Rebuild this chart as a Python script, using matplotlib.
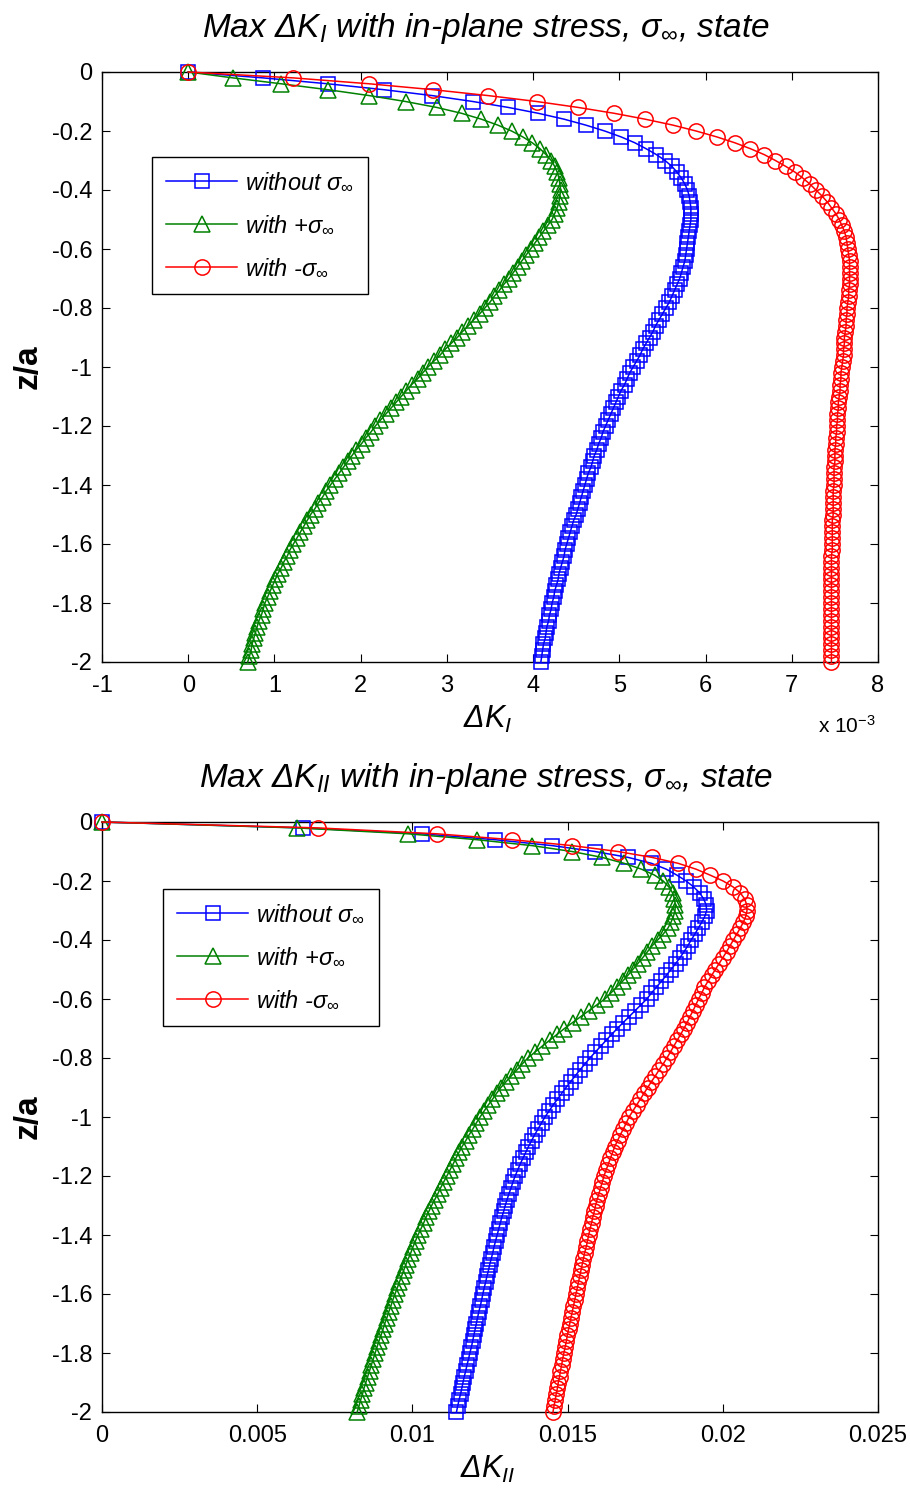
import numpy as np
import matplotlib
matplotlib.use("Agg")
import matplotlib.pyplot as plt

plt.rcParams["font.family"] = ["Liberation Sans", "DejaVu Sans"]
plt.rcParams["mathtext.fontset"] = "custom"
plt.rcParams["mathtext.it"] = "Liberation Sans:italic"
plt.rcParams["mathtext.rm"] = "Liberation Sans"
plt.rcParams["mathtext.bf"] = "Liberation Sans:bold"
plt.rcParams["axes.unicode_minus"] = False

# depth below the surface, normalised by crack size a
z_over_a = [
    0.00, -0.02, -0.04, -0.06, -0.08, -0.10, -0.12, -0.14, -0.16, -0.18,
    -0.20, -0.22, -0.24, -0.26, -0.28, -0.30, -0.32, -0.34, -0.36, -0.38,
    -0.40, -0.42, -0.44, -0.46, -0.48, -0.50, -0.52, -0.54, -0.56, -0.58,
    -0.60, -0.62, -0.64, -0.66, -0.68, -0.70, -0.72, -0.74, -0.76, -0.78,
    -0.80, -0.82, -0.84, -0.86, -0.88, -0.90, -0.92, -0.94, -0.96, -0.98,
    -1.00, -1.02, -1.04, -1.06, -1.08, -1.10, -1.12, -1.14, -1.16, -1.18,
    -1.20, -1.22, -1.24, -1.26, -1.28, -1.30, -1.32, -1.34, -1.36, -1.38,
    -1.40, -1.42, -1.44, -1.46, -1.48, -1.50, -1.52, -1.54, -1.56, -1.58,
    -1.60, -1.62, -1.64, -1.66, -1.68, -1.70, -1.72, -1.74, -1.76, -1.78,
    -1.80, -1.82, -1.84, -1.86, -1.88, -1.90, -1.92, -1.94, -1.96, -1.98,
    -2.00,
]

# Max Delta K_I (units of 1e-3)
dKI_without = [
    0.00, 0.87, 1.62, 2.27, 2.83, 3.30, 3.71, 4.06, 4.36, 4.61,
    4.83, 5.02, 5.18, 5.31, 5.43, 5.53, 5.61, 5.67, 5.72, 5.76,
    5.79, 5.81, 5.82, 5.83, 5.83, 5.83, 5.82, 5.81, 5.80, 5.79,
    5.78, 5.77, 5.76, 5.74, 5.72, 5.70, 5.67, 5.64, 5.61, 5.58,
    5.54, 5.50, 5.46, 5.42, 5.39, 5.35, 5.31, 5.27, 5.24, 5.20,
    5.16, 5.12, 5.09, 5.06, 5.02, 4.99, 4.96, 4.93, 4.90, 4.87,
    4.84, 4.81, 4.79, 4.76, 4.74, 4.71, 4.69, 4.67, 4.64, 4.62,
    4.60, 4.58, 4.56, 4.54, 4.52, 4.50, 4.47, 4.45, 4.43, 4.41,
    4.39, 4.37, 4.36, 4.34, 4.32, 4.30, 4.29, 4.27, 4.25, 4.24,
    4.22, 4.21, 4.19, 4.18, 4.16, 4.15, 4.14, 4.12, 4.11, 4.10,
    4.09,
]
dKI_plus = [
    0.00, 0.52, 1.08, 1.62, 2.10, 2.52, 2.88, 3.17, 3.40, 3.59,
    3.75, 3.88, 3.99, 4.08, 4.15, 4.21, 4.25, 4.28, 4.30, 4.31,
    4.32, 4.31, 4.30, 4.28, 4.25, 4.22, 4.17, 4.12, 4.07, 4.02,
    3.97, 3.92, 3.87, 3.82, 3.77, 3.72, 3.66, 3.61, 3.55, 3.50,
    3.44, 3.38, 3.31, 3.25, 3.18, 3.12, 3.05, 2.98, 2.92, 2.85,
    2.78, 2.72, 2.66, 2.59, 2.53, 2.47, 2.41, 2.35, 2.29, 2.23,
    2.17, 2.12, 2.06, 2.01, 1.95, 1.90, 1.85, 1.80, 1.75, 1.70,
    1.65, 1.60, 1.56, 1.51, 1.47, 1.42, 1.38, 1.34, 1.30, 1.26,
    1.22, 1.18, 1.15, 1.11, 1.08, 1.04, 1.01, 0.98, 0.95, 0.92,
    0.89, 0.87, 0.85, 0.82, 0.80, 0.78, 0.76, 0.74, 0.73, 0.71,
    0.69,
]
dKI_minus = [
    0.00, 1.22, 2.10, 2.84, 3.48, 4.04, 4.52, 4.94, 5.30, 5.62,
    5.89, 6.13, 6.34, 6.52, 6.68, 6.81, 6.93, 7.04, 7.13, 7.21,
    7.28, 7.35, 7.41, 7.46, 7.51, 7.55, 7.58, 7.61, 7.63, 7.64,
    7.65, 7.66, 7.67, 7.67, 7.67, 7.67, 7.67, 7.66, 7.66, 7.65,
    7.64, 7.64, 7.63, 7.63, 7.62, 7.61, 7.61, 7.60, 7.60, 7.59,
    7.58, 7.57, 7.57, 7.56, 7.56, 7.55, 7.54, 7.54, 7.53, 7.53,
    7.52, 7.52, 7.51, 7.51, 7.50, 7.50, 7.50, 7.49, 7.49, 7.49,
    7.49, 7.48, 7.48, 7.48, 7.48, 7.48, 7.47, 7.47, 7.47, 7.47,
    7.47, 7.47, 7.46, 7.46, 7.46, 7.46, 7.46, 7.46, 7.46, 7.46,
    7.46, 7.46, 7.46, 7.46, 7.46, 7.46, 7.46, 7.46, 7.46, 7.46,
    7.46,
]

# Max Delta K_II (units of 1e-3)
dKII_without = [
    0.00, 6.48, 10.31, 12.66, 14.50, 15.88, 16.95, 17.70, 18.18, 18.52,
    18.82, 19.06, 19.25, 19.38, 19.46, 19.48, 19.42, 19.32, 19.21, 19.10,
    18.98, 18.87, 18.75, 18.62, 18.48, 18.33, 18.18, 18.02, 17.86, 17.70,
    17.55, 17.36, 17.17, 16.98, 16.79, 16.60, 16.42, 16.24, 16.07, 15.89,
    15.72, 15.56, 15.40, 15.25, 15.10, 14.95, 14.81, 14.67, 14.53, 14.40,
    14.27, 14.16, 14.05, 13.94, 13.84, 13.74, 13.65, 13.56, 13.47, 13.39,
    13.31, 13.24, 13.18, 13.11, 13.05, 12.99, 12.94, 12.88, 12.83, 12.78,
    12.73, 12.68, 12.63, 12.59, 12.54, 12.49, 12.45, 12.40, 12.36, 12.31,
    12.27, 12.23, 12.19, 12.14, 12.10, 12.06, 12.02, 11.98, 11.94, 11.90,
    11.85, 11.81, 11.76, 11.72, 11.67, 11.63, 11.59, 11.55, 11.50, 11.46,
    11.42,
]
dKII_plus = [
    0.00, 6.28, 9.86, 12.08, 13.85, 15.14, 16.11, 16.82, 17.38, 17.80,
    18.08, 18.26, 18.38, 18.44, 18.47, 18.46, 18.41, 18.33, 18.23, 18.08,
    17.90, 17.72, 17.57, 17.42, 17.26, 17.10, 16.94, 16.77, 16.58, 16.39,
    16.20, 15.94, 15.68, 15.42, 15.16, 14.90, 14.66, 14.42, 14.18, 13.95,
    13.72, 13.54, 13.37, 13.19, 13.02, 12.85, 12.71, 12.58, 12.44, 12.31,
    12.18, 12.06, 11.95, 11.83, 11.72, 11.60, 11.50, 11.40, 11.31, 11.21,
    11.11, 11.01, 10.91, 10.82, 10.72, 10.62, 10.53, 10.44, 10.36, 10.27,
    10.18, 10.10, 10.02, 9.95, 9.87, 9.79, 9.72, 9.65, 9.58, 9.51,
    9.44, 9.37, 9.31, 9.24, 9.18, 9.11, 9.05, 8.99, 8.92, 8.86,
    8.80, 8.74, 8.68, 8.62, 8.56, 8.50, 8.44, 8.39, 8.33, 8.28,
    8.22,
]
dKII_minus = [
    0.00, 6.96, 10.79, 13.21, 15.14, 16.62, 17.72, 18.56, 19.14, 19.59,
    20.01, 20.33, 20.56, 20.70, 20.77, 20.78, 20.74, 20.66, 20.56, 20.45,
    20.34, 20.23, 20.12, 20.00, 19.88, 19.76, 19.64, 19.52, 19.41, 19.32,
    19.22, 19.13, 19.04, 18.94, 18.85, 18.75, 18.64, 18.53, 18.42, 18.31,
    18.20, 18.08, 17.95, 17.83, 17.70, 17.58, 17.46, 17.34, 17.22, 17.10,
    16.98, 16.89, 16.80, 16.70, 16.61, 16.52, 16.45, 16.38, 16.31, 16.24,
    16.17, 16.12, 16.06, 16.01, 15.95, 15.90, 15.86, 15.81, 15.77, 15.72,
    15.68, 15.64, 15.60, 15.55, 15.51, 15.47, 15.43, 15.39, 15.35, 15.31,
    15.27, 15.23, 15.19, 15.15, 15.11, 15.07, 15.03, 14.99, 14.96, 14.92,
    14.88, 14.84, 14.81, 14.77, 14.74, 14.70, 14.67, 14.63, 14.60, 14.56,
    14.53,
]

series_labels = ["without σ$_\\infty$", "with +σ$_\\infty$", "with -σ$_\\infty$"]
series_colors = ["#0000FF", "#008000", "#FF0000"]
series_markers = ["s", "^", "o"]
series_msize = [10, 11, 11]

kI_ticks = [-1, 0, 1, 2, 3, 4, 5, 6, 7, 8]
kII_ticks = [0, 0.005, 0.01, 0.015, 0.02, 0.025]
z_ticks = [0, -0.2, -0.4, -0.6, -0.8, -1, -1.2, -1.4, -1.6, -1.8, -2]

W, H = 910, 1496
fig = plt.figure(figsize=(W / 100, H / 100), dpi=100)
fig.patch.set_facecolor("white")

ax_left, ax_w = 102 / W, 776 / W
ax_h = 590 / H
ax1 = fig.add_axes([ax_left, 1 - 662 / H, ax_w, ax_h])
ax2 = fig.add_axes([ax_left, 1 - 1412 / H, ax_w, ax_h])

z = np.array(z_over_a)


def draw_panel(ax, curves, scale):
    for vals, lab, col, mk, ms in zip(curves, series_labels, series_colors,
                                      series_markers, series_msize):
        ax.plot(np.array(vals) * scale, z, linestyle="-", marker=mk, color=col,
                markerfacecolor="none", markeredgecolor=col, markersize=ms,
                markeredgewidth=1.1, linewidth=1.1, clip_on=False, label=lab,
                zorder=3)
    ax.set_ylim(-2, 0)
    ax.set_yticks(z_ticks)
    ax.set_yticklabels(["%g" % t for t in z_ticks])
    ax.tick_params(direction="in", top=True, right=True, length=6, width=0.8,
                   labelsize=17, colors="black")
    ax.tick_params(axis="y", pad=7)
    ax.tick_params(axis="x", pad=9)
    for sp in ax.spines.values():
        sp.set_linewidth(1.0)
        sp.set_color("black")
    ax.text(-0.095, 0.5, "z/a", transform=ax.transAxes, rotation=90,
            ha="center", va="center", fontsize=24, fontweight="bold")


draw_panel(ax1, [dKI_without, dKI_plus, dKI_minus], 1.0)
ax1.set_xlim(-1, 8)
ax1.set_xticks(kI_ticks)
ax1.set_xticklabels(["%g" % t for t in kI_ticks])

draw_panel(ax2, [dKII_without, dKII_plus, dKII_minus], 1e-3)
ax2.set_xlim(0, 0.025)
ax2.set_xticks(kII_ticks)
ax2.set_xticklabels(["%g" % t for t in kII_ticks])

title_kw = dict(ha="center", va="baseline", fontsize=24, fontstyle="italic")
ax1.text(0.495, 1 + 35 / 590, "Max ΔK$_I$ with in-plane stress, σ$_\\infty$, state",
         transform=ax1.transAxes, **title_kw)
ax2.text(0.495, 1 + 35 / 590, "Max ΔK$_{II}$ with in-plane stress, σ$_\\infty$, state",
         transform=ax2.transAxes, **title_kw)

xlabel_kw = dict(ha="center", va="baseline", fontsize=22, fontstyle="italic")
ax1.text(0.497, -66 / 590, "ΔK$_I$", transform=ax1.transAxes, **xlabel_kw)
ax2.text(0.497, -66 / 590, "ΔK$_{II}$", transform=ax2.transAxes, **xlabel_kw)

fig.text(818 / W, 1 - 733 / H, "x 10$^{-3}$", fontsize=15, ha="left", va="baseline")

legend_kw = dict(loc="upper left", prop={"style": "italic", "size": 17},
                 frameon=True, fancybox=False, framealpha=1, edgecolor="black",
                 borderaxespad=0, handlelength=3.0, handletextpad=0.35,
                 labelspacing=0.85, borderpad=0.6)
leg1 = ax1.legend(bbox_to_anchor=((152 - 102) / 776, 1 - (157 - 72) / 590), **legend_kw)
leg2 = ax2.legend(bbox_to_anchor=((163 - 102) / 776, 1 - (889 - 822) / 590), **legend_kw)
for leg in (leg1, leg2):
    leg.get_frame().set_linewidth(1.0)

fig.savefig("out.png", dpi=100, facecolor="white")
